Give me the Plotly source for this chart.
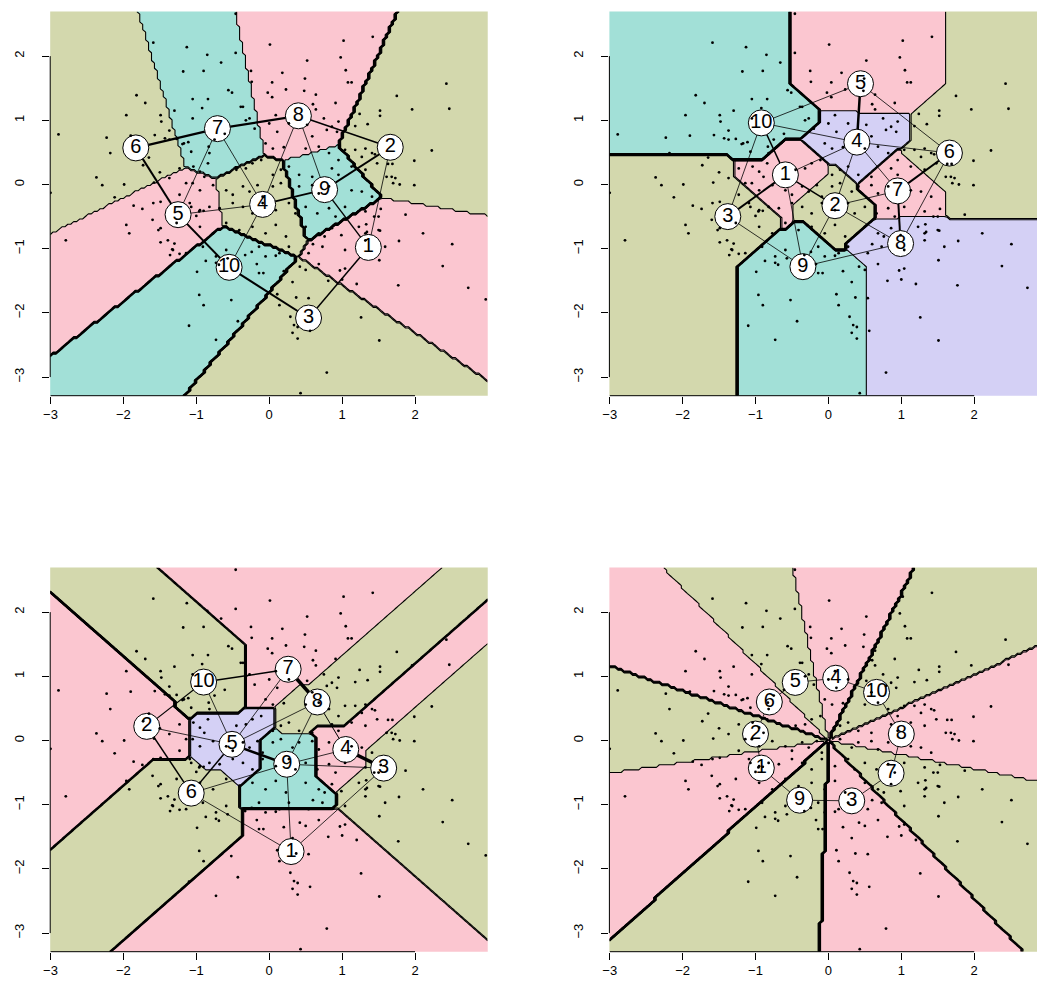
import numpy as np
import plotly.graph_objects as go

W, H = 1037, 987
FONT = "Liberation Sans, Arial, sans-serif"
PALETTE = ["#FBC6D0", "#D3D8AD", "#A2E0D7", "#D4D0F5"]  # pink, olive, teal, lavender

# ---------------- data points (same in every panel) ----------------
dot_xy = [
    # upper area
    (-0.46, 2.66), (0.01, 2.18), (-0.46, 2.05), (-0.25, 1.77), (0.18, 1.74), (0.52, 1.93), (1.02, 2.24),
    (1.42, 2.30), (0.98, 1.98), (1.05, 1.78), (1.08, 1.59), (1.13, 1.59), (0.04, 1.59), (-0.24, 1.60),
    (-0.02, 1.43), (0.04, 1.36), (0.23, 1.48), (0.60, 1.25), (0.64, 1.17), (0.91, 1.27),
    (0.49, 1.65), (0.64, 1.40), (0.48, 1.46),
    (-1.59, 2.21), (-1.13, 2.14), (-0.85, 2.02), (-0.66, 1.90), (-1.18, 1.76), (-0.90, 1.77), (-1.82, 1.39),
    (-1.70, 1.27), (-1.96, 1.08), (-1.49, 1.08), (-1.48, 0.98), (-1.30, 1.15), (-1.05, 1.33), (-0.84, 1.33),
    (-0.56, 1.47), (-0.51, 1.43), (-2.89, 0.78), (-2.23, 0.73), (-1.90, 0.76), (-1.57, 0.77), (-1.43, 0.72),
    (-1.37, 0.84), (-1.37, 0.70), (-1.27, 0.71), (-1.19, 0.63), (-1.07, 0.51), (-0.83, 0.59), (-0.32, 1.00),
    (-0.39, 1.21), (-0.92, 1.19), (-1.05, 1.03), (-2.18, 0.49),
    # right
    (2.43, 1.57), (2.47, 1.18), (1.96, 1.17), (1.75, 1.38), (1.52, 1.15), (1.52, 1.07), (1.35, 0.94),
    (2.23, 0.53), (1.73, 0.10), (1.79, 0.00), (1.99, -0.01), (1.87, -0.47), (1.70, 0.02),
    (1.18, 0.54), (1.27, 0.43), (1.45, 0.47), (1.48, 0.33), (1.61, 0.12),
    (1.24, 1.10), (1.18, 0.91), (1.99, 0.37), (1.63, 0.32), (1.69, 0.32),
    # left
    (-3.00, -0.13), (-2.79, -0.87), (-2.37, 0.11), (-2.29, -0.01), (-2.12, -0.20), (-1.99, 0.00),
    (-1.96, -0.63), (-1.92, -0.76), (-1.86, -0.33), (-1.74, -0.38), (-1.73, 0.30), (-1.65, 0.42),
    (-1.59, -0.29), (-1.50, 0.19), (-1.37, 0.10), (-1.52, -0.71), (-1.49, -0.90), (-1.39, -0.87),
    (-1.36, -1.10), (-1.30, -0.92), (-1.23, -1.08), (-1.23, -0.16), (-1.07, -0.35), (-1.00, -0.49),
    (-0.96, -0.42), (-0.90, -0.41), (-1.58, 0.03), (-1.05, 0.02),
    (-1.60, -0.55), (-1.49, -0.68), (-1.33, -1.01), (-1.49, -0.27),
    # lower
    (-0.96, -1.72), (-0.90, -1.88), (-1.10, -2.20), (-0.73, -2.42), (-0.43, -2.13), (-0.52, -1.80),
    (0.11, -1.71), (0.14, -1.88), (0.29, -2.06), (0.34, -2.19), (0.39, -2.22), (0.32, -2.31), (0.39, -2.40),
    (0.43, -3.25), (-0.99, -1.36), (-0.87, -1.19), (-0.73, -1.22), (-0.57, -1.15), (-0.14, -1.38),
    (0.09, -1.11), (0.32, -1.52), (0.20, -1.35),
    (-0.69, -1.25), (-0.33, -1.10), (-0.24, -1.05), (-0.17, -1.24), (-0.08, -1.38),
    (0.37, -1.76), (0.54, -1.77), (0.42, -1.28),
    (2.73, -1.61), (2.51, -0.93), (2.38, -1.27), (2.11, -0.76), (1.78, -0.88), (1.77, -1.57), (1.51, -1.18),
    (1.51, -2.43), (1.26, -2.07), (1.20, -1.55), (0.79, -2.93), (0.56, -2.28), (0.81, -1.50), (0.97, -1.34),
    (1.00, -1.48), (1.04, -1.31), (1.32, -0.87), (1.34, -0.74), (1.52, -0.72), (0.68, -1.24), (0.50, -1.33),
    (2.97, -1.79), (0.60, -0.93), (0.76, -0.81), (0.99, -0.79), (1.33, -0.62), (1.53, -0.38), (1.44, -0.50),
    # centre
    (-0.36, 1.21), (-0.27, 1.03), (0.00, 0.95), (0.09, 1.08), (0.75, 1.03), (0.86, 0.90), (0.95, 0.98),
    (-0.75, 0.70), (-0.61, 0.79), (-0.20, 0.87), (0.11, 0.82), (0.27, 0.95), (0.52, 0.93), (0.79, 0.85),
    (0.93, 0.82), (0.59, 0.75),
    (-1.17, 0.64), (-1.11, 0.66), (-0.82, 0.49), (-0.05, 0.64), (0.05, 0.56), (0.20, 0.58), (0.50, 0.56),
    (0.68, 0.59), (0.82, 0.49), (0.95, 0.38), (1.04, 0.54), (1.32, 0.56), (1.41, 0.49),
    (-1.23, 0.25), (-1.04, 0.28), (-0.95, 0.20), (-0.89, 0.12), (-0.84, 0.33), (-0.45, 0.23), (-0.32, 0.25),
    (-0.23, 0.33), (-0.11, 0.38), (0.05, 0.15), (0.16, 0.23), (0.27, 0.28), (0.41, 0.15), (0.59, 0.12),
    (0.86, 0.25), (0.95, 0.15), (1.13, 0.28), (1.32, 0.23), (1.68, 0.12),
    (-1.14, 0.02), (-0.95, -0.09), (-0.77, -0.01), (-0.59, -0.09), (-0.50, -0.16), (-0.36, -0.03),
    (-0.27, -0.11), (-0.16, -0.01), (-0.09, -0.19), (0.05, -0.03), (0.16, 0.02), (0.32, -0.11), (0.41, -0.03),
    (0.59, -0.01), (0.68, -0.14), (0.82, -0.03), (1.13, -0.09), (1.27, -0.11), (1.41, -0.19),
    (-1.09, -0.29), (-0.95, -0.40), (-0.82, -0.35), (-0.68, -0.37), (-0.50, -0.29), (-0.36, -0.35),
    (-0.23, -0.45), (-0.09, -0.29), (0.09, -0.40), (0.27, -0.29), (0.36, -0.45), (0.50, -0.35), (0.66, -0.45),
    (0.82, -0.37), (0.91, -0.50), (1.04, -0.35), (1.32, -0.42), (1.50, -0.50),
    (-1.27, -0.60), (-0.95, -0.66), (-0.77, -0.76), (-0.59, -0.60), (-0.41, -0.71), (-0.23, -0.66),
    (-0.05, -0.76), (0.09, -0.63), (0.23, -0.81), (0.50, -0.66), (0.68, -0.76), (0.86, -0.68), (1.23, -0.66),
    (1.32, -0.76), (1.50, -0.71),
    (-1.32, -1.02), (-1.14, -1.07), (-0.91, -0.97), (-0.73, -1.12), (-0.59, -1.02), (-0.14, -0.97),
    (-0.05, -1.12), (0.14, -1.07), (0.27, -0.97), (0.54, -1.07), (0.73, -0.97), (1.04, -1.02), (1.59, -0.97),
]

# ---------------- cluster centres (index 1..10), colour index, neighbour graph ----------------
p1_x = [1.36, 1.66, 0.54, -0.09, -1.25, -1.83, -0.71, 0.40, 0.76, -0.55]
p1_y = [-0.98, 0.58, -2.08, -0.31, -0.47, 0.57, 0.87, 1.07, -0.08, -1.29]
p1_col = [0, 1, 1, 1, 0, 1, 2, 0, 2, 2]
p1_edges = [(6, 7, 2.2), (7, 8, 2.2), (6, 5, 2.0), (5, 10, 2.0), (10, 3, 2.0), (3, 1, 1.5), (1, 2, 0.8),
            (2, 8, 1.6), (2, 9, 2.0), (9, 4, 1.8), (4, 5, 0.8), (4, 10, 0.8), (4, 7, 0.8), (5, 7, 0.8),
            (4, 8, 0.8), (8, 9, 0.8), (9, 1, 1.4)]

p2_x = [-0.59, 0.09, -1.38, 0.39, 0.44, 1.66, 0.95, 0.99, -0.35, -0.92]
p2_y = [0.15, -0.33, -0.50, 0.66, 1.57, 0.49, -0.10, -0.92, -1.28, 0.96]
p2_col = [0, 1, 1, 3, 0, 1, 0, 3, 2, 2]
p2_edges = [(5, 10, 0.8), (5, 4, 2.5), (5, 6, 0.8), (10, 4, 0.8), (10, 1, 1.5), (10, 3, 0.8), (4, 1, 0.8),
            (4, 6, 0.8), (4, 7, 0.8), (4, 2, 0.8), (6, 7, 2.0), (6, 8, 0.8), (1, 3, 2.0), (1, 2, 1.5),
            (1, 9, 0.8), (2, 7, 0.8), (2, 9, 0.8), (2, 8, 0.8), (7, 8, 2.0), (3, 9, 0.8), (9, 8, 0.8)]

p3_x = [0.30, -1.68, 1.57, 1.05, -0.51, -1.07, 0.26, 0.66, 0.24, -0.90]
p3_y = [-1.73, 0.22, -0.43, -0.14, -0.06, -0.82, 1.11, 0.60, -0.37, 0.91]
p3_col = [0, 0, 1, 0, 3, 1, 0, 1, 2, 1]
p3_edges = [(7, 10, 1.5), (7, 8, 3.5), (7, 5, 0.8), (10, 2, 1.2), (10, 5, 0.8), (2, 5, 0.8), (2, 6, 1.5),
            (5, 6, 1.5), (5, 8, 0.8), (5, 9, 2.5), (8, 9, 0.8), (8, 4, 1.0), (4, 9, 0.8), (4, 3, 3.5),
            (9, 3, 0.8), (9, 6, 0.8), (9, 1, 0.8), (6, 1, 0.8), (1, 3, 0.8)]

p4_x = [-0.92, -1.00, 0.32, 0.10, -0.455, -0.81, 0.86, 1.00, -0.395, 0.66]
p4_y = [-0.43, 0.10, -0.94, 0.97, 0.905, 0.60, -0.51, 0.10, -0.93, 0.75]
p4_col = [0, 1, 0, 0, 1, 0, 1, 0, 1, 1]
p4_edges = [(5, 4, 0.8), (5, 6, 0.8), (6, 2, 0.8), (2, 1, 0.8), (1, 9, 0.8), (9, 3, 0.8), (3, 7, 0.8),
            (7, 8, 0.8), (8, 10, 0.8), (10, 4, 0.8)]

# axis ranges (data range) and tick values
X_RANGE = [-3.004, 2.997]
Y_RANGE = [-3.29, 2.695]
TICKS = [-3, -2, -1, 0, 1, 2]
TICK_TEXT = ["\u22123", "\u22122", "\u22121", "0", "1", "2"]
NGRID = 150
PX_PER_X = 73.4

# pixel frames of the four plot regions (left, right, top, bottom)
frames = [(43.5, 484.0, 11.5, 395.7), (606.5, 1037.0, 11.5, 395.7),
          (43.5, 484.0, 567.5, 951.7), (606.5, 1037.0, 567.5, 951.7)]

panels = [
    dict(cx=p1_x, cy=p1_y, col=p1_col, edges=p1_edges, metric="euclidean"),
    dict(cx=p2_x, cy=p2_y, col=p2_col, edges=p2_edges, metric="manhattan"),
    dict(cx=p3_x, cy=p3_y, col=p3_col, edges=p3_edges, metric="maximum"),
    dict(cx=p4_x, cy=p4_y, col=p4_col, edges=p4_edges, metric="angle"),
]

gx = np.linspace(X_RANGE[0], X_RANGE[1], NGRID)
gy = np.linspace(Y_RANGE[0], Y_RANGE[1], NGRID)
GX, GY = np.meshgrid(gx, gy)


def classify(cx, cy, metric):
    cx = np.asarray(cx)[:, None, None]
    cy = np.asarray(cy)[:, None, None]
    dx = GX[None] - cx
    dy = GY[None] - cy
    if metric == "euclidean":
        d = dx ** 2 + dy ** 2
    elif metric == "manhattan":
        d = np.abs(dx) + np.abs(dy)
    elif metric == "maximum":
        d = np.maximum(np.abs(dx), np.abs(dy))
    else:
        r = np.sqrt(GX ** 2 + GY ** 2)[None] + 1e-12
        rc = np.sqrt(cx ** 2 + cy ** 2)
        d = 1 - (GX[None] * cx + GY[None] * cy) / (r * rc)
    return np.argmin(d, axis=0) + 1


colorscale = [[0, PALETTE[0]], [0.25, PALETTE[0]], [0.25, PALETTE[1]], [0.5, PALETTE[1]],
              [0.5, PALETTE[2]], [0.75, PALETTE[2]], [0.75, PALETTE[3]], [1, PALETTE[3]]]

fig = go.Figure()
layout = dict(width=W, height=H, margin=dict(l=0, r=0, t=0, b=0), paper_bgcolor="white",
              plot_bgcolor="white", showlegend=False, font=dict(family=FONT, color="black"))
shapes = []
dots_x = [p[0] for p in dot_xy]
dots_y = [p[1] for p in dot_xy]

for i, (pn, fr) in enumerate(zip(panels, frames)):
    xs = "x" if i == 0 else f"x{i+1}"
    ys = "y" if i == 0 else f"y{i+1}"
    xa = "xaxis" if i == 0 else f"xaxis{i+1}"
    ya = "yaxis" if i == 0 else f"yaxis{i+1}"
    L, R, T, B = fr
    xr = [X_RANGE[0], X_RANGE[0] + (R - L) / PX_PER_X]

    lab = classify(pn["cx"], pn["cy"], pn["metric"])
    zc = np.asarray(pn["col"])[lab - 1]
    k = len(pn["cx"])

    fig.add_trace(go.Heatmap(x=gx, y=gy, z=zc, zmin=0, zmax=3, colorscale=colorscale, showscale=False,
                             hoverinfo="skip", xaxis=xs, yaxis=ys, zsmooth=False))
    fig.add_trace(go.Contour(x=gx, y=gy, z=lab, showscale=False, hoverinfo="skip",
                             contours=dict(start=1.5, end=k - 0.5, size=1, coloring="none", showlabels=False),
                             line=dict(color="black", width=1.1, smoothing=0), xaxis=xs, yaxis=ys))
    for a, b, w in pn["edges"]:
        fig.add_trace(go.Scatter(x=[pn["cx"][a - 1], pn["cx"][b - 1]], y=[pn["cy"][a - 1], pn["cy"][b - 1]],
                                 mode="lines", line=dict(color="black", width=w), hoverinfo="skip",
                                 xaxis=xs, yaxis=ys))
    fig.add_trace(go.Scatter(x=pn["cx"], y=pn["cy"], mode="markers+text",
                             text=[str(j + 1) for j in range(k)], textposition="middle center",
                             textfont=dict(size=20, color="black", family=FONT),
                             marker=dict(size=26, color="white", line=dict(color="black", width=1)),
                             hoverinfo="skip", xaxis=xs, yaxis=ys))
    fig.add_trace(go.Scatter(x=dots_x, y=dots_y, mode="markers",
                             marker=dict(size=2.8, color="black", line=dict(width=0)),
                             hoverinfo="skip", xaxis=xs, yaxis=ys))

    common = dict(ticks="outside", ticklen=7, tickwidth=1, tickcolor="black", showgrid=False,
                  zeroline=False, showline=False, tickvals=TICKS, ticktext=TICK_TEXT,
                  tickfont=dict(size=13, color="black", family=FONT))
    layout[xa] = dict(domain=[L / W, R / W], range=xr, anchor=ys, **common)
    layout[ya] = dict(domain=[1 - B / H, 1 - T / H], range=Y_RANGE, anchor=xs, tickangle=-90,
                      ticklabelstandoff=13, **common)

    # R-style axis lines spanning first to last tick
    shapes.append(dict(type="line", xref=xs, yref="paper", x0=TICKS[0], x1=TICKS[-1],
                       y0=1 - B / H, y1=1 - B / H, line=dict(color="black", width=1)))
    shapes.append(dict(type="line", xref="paper", yref=ys, x0=L / W, x1=L / W,
                       y0=TICKS[0], y1=TICKS[-1], line=dict(color="black", width=1)))

layout["shapes"] = shapes
fig.update_layout(**layout)
fig.write_html("out.html", config={"displayModeBar": False},
               post_script="document.body.style.margin='0px';document.body.style.overflow='hidden';")
